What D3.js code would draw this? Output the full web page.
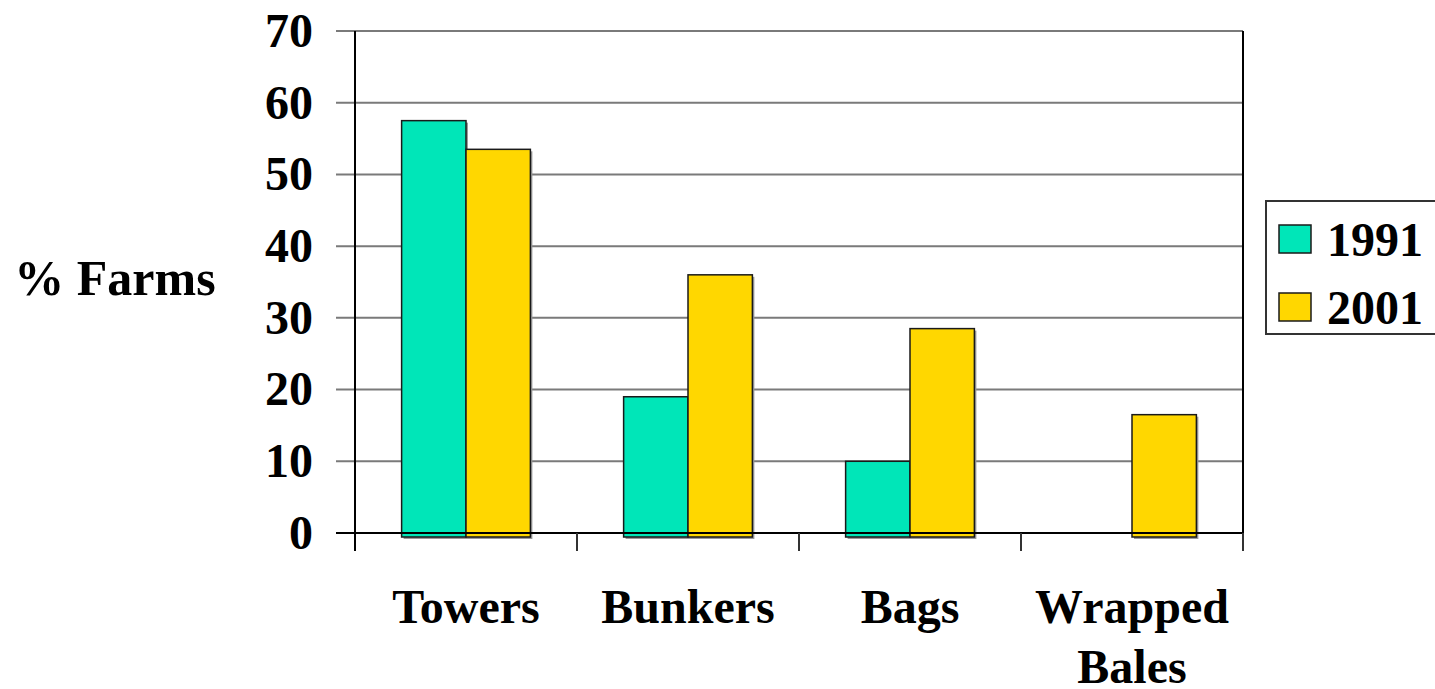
<!DOCTYPE html>
<html>
<head>
  <meta charset="utf-8">
  <title>% Farms by silage storage</title>
  <script src="https://d3js.org/d3.v7.min.js"></script>
  <style>
    body { margin: 0; background: #fff; }
    svg text {
      font-family: "Liberation Serif", "Times New Roman", serif;
      font-weight: bold;
      font-size: 48px;
      fill: #000;
    }
  </style>
</head>
<body>
<svg id="chart" width="1435" height="689"></svg>
<script>
// data
var categories = ["Towers", "Bunkers", "Bags", "Wrapped Bales"];
var series = ["1991", "2001"];
var values1991 = [57.5, 19, 10, 0];
var values2001 = [53.5, 36, 28.5, 16.5];
var yTicks = [0, 10, 20, 30, 40, 50, 60, 70];
var colors = ["#00E6B8", "#FFD700"];

var svg = d3.select("#chart");

// plot area
var plotLeft = 355, plotRight = 1243, plotTop = 31, plotBottom = 533;

var x0 = d3.scaleBand().domain(categories).range([plotLeft, plotRight]).padding(0);
var gap = x0.bandwidth() * 0.21;
var x1 = d3.scaleBand().domain(series).range([gap, x0.bandwidth() - gap]).padding(0);
var y = d3.scaleLinear().domain([0, 70]).range([plotBottom, plotTop]);

// gridlines
svg.append("g").selectAll("line")
  .data(yTicks.filter(function(d) { return d > 0; }))
  .enter().append("line")
  .attr("x1", plotLeft - 19).attr("x2", plotRight)
  .attr("y1", function(d) { return y(d); })
  .attr("y2", function(d) { return y(d); })
  .attr("stroke", "#7a7a7a")
  .attr("stroke-width", 2);

// right border
svg.append("line")
  .attr("x1", plotRight).attr("x2", plotRight)
  .attr("y1", y(70)).attr("y2", y(0))
  .attr("stroke", "#000").attr("stroke-width", 2);

// y tick labels
svg.append("g").selectAll("text")
  .data(yTicks)
  .enter().append("text")
  .attr("x", plotLeft - 42)
  .attr("y", function(d) { return y(d); })
  .attr("dy", "0.33em")
  .attr("text-anchor", "end")
  .text(function(d) { return d; });

// bars
var rows = categories.map(function(c, i) {
  return { cat: c, vals: [values1991[i], values2001[i]] };
});

var groups = svg.append("g").selectAll("g")
  .data(rows)
  .enter().append("g")
  .attr("transform", function(d) { return "translate(" + x0(d.cat) + ",0)"; });

var bars = groups.selectAll("g")
  .data(function(d) {
    return d.vals.map(function(v, j) { return { s: series[j], v: v, j: j }; })
      .filter(function(b) { return b.v > 0; });
  })
  .enter().append("g");

// shadow
bars.append("rect")
  .attr("x", function(d) { return x1(d.s) + 2; })
  .attr("y", function(d) { return y(d.v) + 2; })
  .attr("width", x1.bandwidth())
  .attr("height", function(d) { return y(0) - y(d.v) + 4; })
  .attr("fill", "#9a9a9a");

bars.append("rect")
  .attr("x", function(d) { return x1(d.s); })
  .attr("y", function(d) { return y(d.v); })
  .attr("width", x1.bandwidth())
  .attr("height", function(d) { return y(0) - y(d.v) + 4; })
  .attr("fill", function(d) { return colors[d.j]; })
  .attr("stroke", "#1a1a1a")
  .attr("stroke-width", 1.5);

// zero line and left axis
svg.append("line")
  .attr("x1", plotLeft - 19).attr("x2", plotRight)
  .attr("y1", y(0)).attr("y2", y(0))
  .attr("stroke", "#000").attr("stroke-width", 2);

svg.append("line")
  .attr("x1", plotLeft).attr("x2", plotLeft)
  .attr("y1", y(70)).attr("y2", y(0) + 18)
  .attr("stroke", "#000").attr("stroke-width", 2);

// category boundary ticks
svg.append("g").selectAll("line")
  .data(categories)
  .enter().append("line")
  .attr("x1", function(d) { return x0(d) + x0.bandwidth(); })
  .attr("x2", function(d) { return x0(d) + x0.bandwidth(); })
  .attr("y1", y(0)).attr("y2", y(0) + 18)
  .attr("stroke", "#333").attr("stroke-width", 2);

// category labels (wrap on space for long names)
var catLabels = svg.append("g").selectAll("text")
  .data(categories)
  .enter().append("text")
  .attr("text-anchor", "middle")
  .attr("y", 623);

catLabels.each(function(d) {
  var t = d3.select(this);
  var words = d.length > 8 ? d.split(" ") : [d];
  words.forEach(function(w, i) {
    t.append("tspan")
      .attr("x", x0(d) + x0.bandwidth() / 2)
      .attr("dy", i === 0 ? 0 : 60)
      .text(w);
  });
});

// y title
svg.append("text")
  .attr("x", 115)
  .attr("y", 295)
  .attr("text-anchor", "middle")
  .style("font-size", "50px")
  .text("% Farms");

// legend
var legend = svg.append("g");
legend.append("rect")
  .attr("x", 1266).attr("y", 201)
  .attr("width", 180).attr("height", 133)
  .attr("fill", "#fff")
  .attr("stroke", "#333").attr("stroke-width", 2);

var items = legend.selectAll("g.item")
  .data(series)
  .enter().append("g")
  .attr("class", "item")
  .attr("transform", function(d, i) { return "translate(1279," + (225 + i * 68) + ")"; });

items.append("rect")
  .attr("width", 32).attr("height", 28)
  .attr("fill", function(d, i) { return colors[i]; })
  .attr("stroke", "#1a1a1a").attr("stroke-width", 1.5);

items.append("text")
  .attr("x", 48)
  .attr("y", 31)
  .text(function(d) { return d; });
</script>
</body>
</html>
